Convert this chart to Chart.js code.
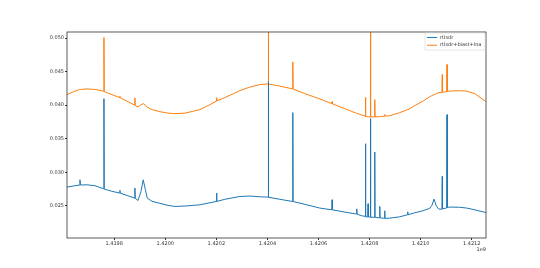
<!DOCTYPE html>
<html>
<head>
<meta charset="utf-8">
<script src="https://cdn.jsdelivr.net/npm/chart.js@4/dist/chart.umd.min.js"></script>
<style>
  html, body { margin: 0; padding: 0; background: #fff; }
  #wrap { width: 540px; height: 268px; }
</style>
</head>
<body>
<div id="wrap"><canvas id="spectrum"></canvas></div>
<script>
// frequency (Hz) shared by both traces
const freqs = [
    1419615000, 1419646200, 1419663800, 1419665750, 1419667700, 1419693150, 1419724460,
    1419758500, 1419759700, 1419760900, 1419791000, 1419821100, 1419822300, 1419823500,
    1419853600, 1419879800, 1419881000, 1419882200, 1419892800, 1419904500, 1419913500,
    1419922100, 1419929200, 1419947600, 1419978900, 1420010200, 1420037600, 1420076700,
    1420135400, 1420174600, 1420199600, 1420200800, 1420202000, 1420233300, 1420292000,
    1420331100, 1420370300, 1420402400, 1420403500, 1420404700, 1420448600, 1420498300,
    1420499400, 1420500600, 1420546400, 1420605100, 1420652100, 1420653300, 1420654400,
    1420703000, 1420742100, 1420748800, 1420749900, 1420751100, 1420769500, 1420782800,
    1420784000, 1420785200, 1420793000, 1420794200, 1420795300, 1420802400, 1420803500,
    1420804700, 1420819200, 1420820400, 1420821600, 1420838800, 1420840000, 1420841100,
    1420858300, 1420859500, 1420860700, 1420879100, 1420918200, 1420948400, 1420949500,
    1420950700, 1420976900, 1421008300, 1421035700, 1421043500, 1421052500, 1421061100,
    1421070900, 1421083400, 1421084600, 1421085700, 1421102200, 1421103400, 1421104500,
    1421113900, 1421153100, 1421180500, 1421211800, 1421254800
];

const rtlsdr = [
    0.02779, 0.02799, 0.02809, 0.02888, 0.02809, 0.02813, 0.02799,
    0.02754, 0.04097, 0.02749, 0.02716, 0.02690, 0.02731, 0.02689,
    0.02649, 0.02615, 0.02764, 0.02612, 0.02579, 0.02709, 0.02888,
    0.02739, 0.02615, 0.02567, 0.02537, 0.02507, 0.02490, 0.02496,
    0.02515, 0.02545, 0.02564, 0.02690, 0.02565, 0.02597, 0.02639,
    0.02645, 0.02634, 0.02630, 0.04350, 0.02627, 0.02597, 0.02564,
    0.03888, 0.02563, 0.02522, 0.02466, 0.02440, 0.02590, 0.02440,
    0.02406, 0.02381, 0.02378, 0.02455, 0.02376, 0.02351, 0.02343,
    0.03425, 0.02336, 0.02333, 0.02530, 0.02333, 0.02331, 0.03800,
    0.02331, 0.02328, 0.03301, 0.02328, 0.02321, 0.02490, 0.02321,
    0.02313, 0.02425, 0.02313, 0.02316, 0.02336, 0.02366, 0.02410,
    0.02366, 0.02396, 0.02425, 0.02463, 0.02500, 0.02600, 0.02500,
    0.02450, 0.02450, 0.02937, 0.02452, 0.02470, 0.03858, 0.02475,
    0.02481, 0.02478, 0.02466, 0.02440, 0.02400
];

const rtlsdrBiastLna = [
    0.04157, 0.04209, 0.04231, 0.04232, 0.04233, 0.04242, 0.04234,
    0.04209, 0.05007, 0.04201, 0.04157, 0.04112, 0.04134, 0.04110,
    0.04052, 0.04000, 0.04108, 0.03993, 0.03973, 0.04007, 0.04022,
    0.04000, 0.03970, 0.03933, 0.03903, 0.03881, 0.03873, 0.03881,
    0.03933, 0.04007, 0.04060, 0.04112, 0.04063, 0.04112, 0.04216,
    0.04269, 0.04306, 0.04316, 0.06000, 0.04313, 0.04284, 0.04242,
    0.04645, 0.04239, 0.04172, 0.04093, 0.04022, 0.04052, 0.04020,
    0.03948, 0.03888, 0.03880, 0.03880, 0.03879, 0.03851, 0.03836,
    0.04116, 0.03833, 0.03826, 0.03826, 0.03825, 0.03824, 0.06000,
    0.03824, 0.03824, 0.04082, 0.03824, 0.03830, 0.03830, 0.03830,
    0.03836, 0.03860, 0.03836, 0.03843, 0.03888, 0.03933, 0.03933,
    0.03933, 0.03993, 0.04056, 0.04127, 0.04140, 0.04157, 0.04170,
    0.04187, 0.04190, 0.04455, 0.04192, 0.04200, 0.04604, 0.04205,
    0.04209, 0.04216, 0.04209, 0.04172, 0.04056
];

const xTicks = [1419800000, 1420000000, 1420200000, 1420400000, 1420600000, 1420800000, 1421000000, 1421200000];
const yTicks = [0.025, 0.030, 0.035, 0.040, 0.045, 0.050];

const tickFont = { family: 'DejaVu Sans', size: 5 };
const inkColor = '#333';

// matplotlib-style box around the axes + legend inside upper right
const framePlugin = {
    id: 'frame',
    afterDatasetsDraw(chart) {
        const { ctx, chartArea: a } = chart;
        ctx.save();
        ctx.strokeStyle = inkColor;
        ctx.lineWidth = 0.8;
        ctx.strokeRect(a.left, a.top, a.right - a.left, a.bottom - a.top);

        // legend
        const boxW = 60, boxH = 17;
        const bx = a.right - boxW - 1, by = a.top + 1;
        ctx.fillStyle = 'rgba(255,255,255,0.8)';
        ctx.strokeStyle = '#d6d6d6';
        ctx.lineWidth = 0.6;
        ctx.beginPath();
        ctx.rect(bx, by, boxW, boxH);
        ctx.fill();
        ctx.stroke();
        ctx.font = '5px "DejaVu Sans"';
        ctx.textBaseline = 'middle';
        chart.data.datasets.forEach((ds, i) => {
            const ry = by + 4.5 + i * 7.7;
            ctx.strokeStyle = ds.borderColor;
            ctx.lineWidth = 1;
            ctx.beginPath();
            ctx.moveTo(bx + 2, ry);
            ctx.lineTo(bx + 12, ry);
            ctx.stroke();
            ctx.fillStyle = inkColor;
            ctx.fillText(ds.label, bx + 15, ry);
        });

        // offset text under the x axis
        ctx.textAlign = 'right';
        ctx.textBaseline = 'middle';
        ctx.fillText('1e9', a.right, a.bottom + 12);
        ctx.restore();
    }
};

new Chart(document.getElementById('spectrum'), {
    type: 'line',
    data: {
        datasets: [
            {
                label: 'rtlsdr',
                data: freqs.map((f, i) => ({ x: f, y: rtlsdr[i] })),
                borderColor: '#1f77b4',
                borderWidth: 1,
                pointRadius: 0,
                tension: 0
            },
            {
                label: 'rtlsdr+biast+lna',
                data: freqs.map((f, i) => ({ x: f, y: rtlsdrBiastLna[i] })),
                borderColor: '#ff7f0e',
                borderWidth: 1,
                pointRadius: 0,
                tension: 0
            }
        ]
    },
    options: {
        responsive: true,
        maintainAspectRatio: false,
        animation: false,
        events: [],
        layout: { padding: { left: 0, right: 54, top: 32, bottom: 0 } },
        plugins: {
            legend: { display: false },
            tooltip: { enabled: false }
        },
        scales: {
            x: {
                type: 'linear',
                min: 1419615000,
                max: 1421256000,
                afterBuildTicks: axis => { axis.ticks = xTicks.map(v => ({ value: v })); },
                afterFit: axis => { axis.height = 30; },
                grid: { drawOnChartArea: false, drawTicks: true, tickLength: 2, color: inkColor },
                border: { display: false },
                ticks: {
                    color: inkColor,
                    font: tickFont,
                    padding: 1,
                    maxRotation: 0,
                    autoSkip: false,
                    callback: v => (v / 1e9).toFixed(4)
                }
            },
            y: {
                min: 0.0202,
                max: 0.0509,
                afterBuildTicks: axis => { axis.ticks = yTicks.map(v => ({ value: v })); },
                afterFit: axis => { axis.width = 67; },
                grid: { drawOnChartArea: false, drawTicks: true, tickLength: 2, color: inkColor },
                border: { display: false },
                ticks: {
                    color: inkColor,
                    font: tickFont,
                    padding: 1,
                    autoSkip: false,
                    callback: v => v.toFixed(3)
                }
            }
        }
    },
    plugins: [framePlugin]
});
</script>
</body>
</html>
